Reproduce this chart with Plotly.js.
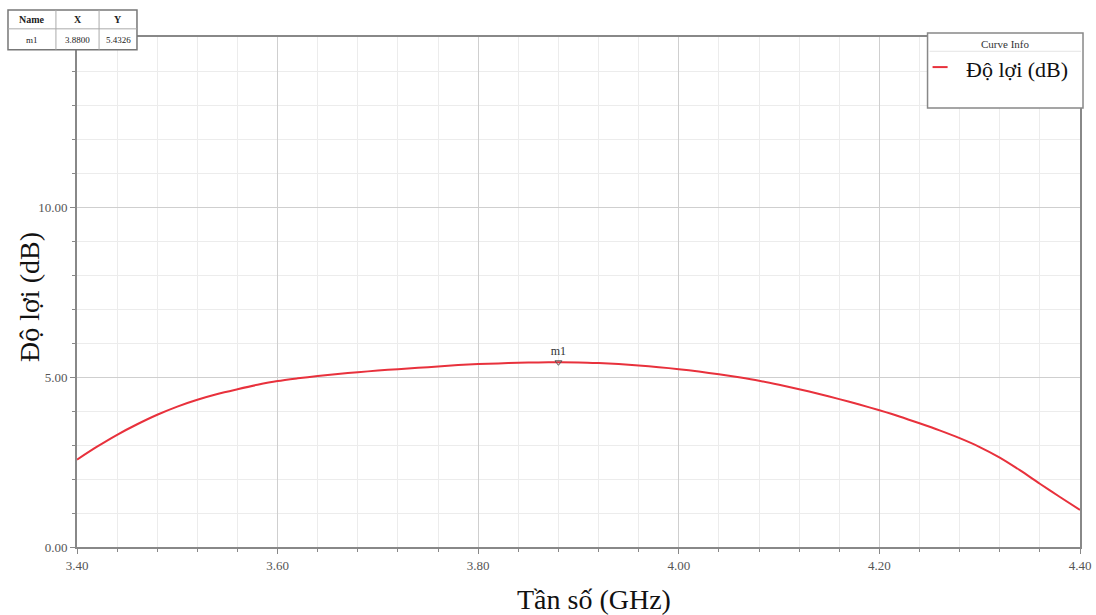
<!DOCTYPE html>
<html>
<head>
<meta charset="utf-8">
<script src="https://cdn.plot.ly/plotly-3.0.1.min.js"></script>
<style>html,body{margin:0;padding:0;background:#fff;}#chart{width:1096px;height:615px;}</style>
</head>
<body>
<div id="chart"></div>
<script>
const freqGHz = [3.40, 3.42, 3.44, 3.46, 3.48, 3.50, 3.52, 3.54, 3.56, 3.58, 3.60, 3.62, 3.64, 3.66, 3.68, 3.70, 3.72, 3.74, 3.76, 3.78, 3.80, 3.82, 3.84, 3.86, 3.88, 3.90, 3.92, 3.94, 3.96, 3.98, 4.00, 4.02, 4.04, 4.06, 4.08, 4.10, 4.12, 4.14, 4.16, 4.18, 4.20, 4.22, 4.24, 4.26, 4.28, 4.30, 4.32, 4.34, 4.36, 4.38, 4.40];
const gainDB  = [2.57, 2.95, 3.30, 3.61, 3.89, 4.13, 4.33, 4.50, 4.64, 4.77, 4.88, 4.96, 5.03, 5.09, 5.14, 5.19, 5.23, 5.27, 5.31, 5.35, 5.38, 5.40, 5.42, 5.43, 5.4326, 5.43, 5.41, 5.38, 5.34, 5.29, 5.23, 5.16, 5.08, 4.99, 4.89, 4.77, 4.64, 4.50, 4.35, 4.19, 4.02, 3.84, 3.64, 3.43, 3.20, 2.94, 2.63, 2.26, 1.86, 1.47, 1.09];
const markerName = ['m1'];
const markerX = [3.88];
const markerY = [5.4326];
const xTickVals = [3.40, 3.60, 3.80, 4.00, 4.20, 4.40];
const xTickText = ['3.40', '3.60', '3.80', '4.00', '4.20', '4.40'];
const yTickVals = [0, 5, 10];
const yTickText = ['0.00', '5.00', '10.00'];
const seriesName = 'Độ lợi (dB)';
const xTitle = 'Tần số (GHz)';
const yTitle = 'Độ lợi (dB)';

const serif = 'Liberation Serif, Times New Roman, serif';

const traces = [
  {
    x: freqGHz, y: gainDB, type: 'scatter', mode: 'lines',
    line: {color: '#e8313c', width: 2, shape: 'spline', smoothing: 0.8},
    name: seriesName, showlegend: false
  },
  {
    x: markerX, y: markerY, type: 'scatter', mode: 'markers+text',
    marker: {symbol: 'triangle-down-open', size: 6, color: '#555', line: {width: 1, color: '#555'}},
    text: markerName, textposition: 'top center',
    textfont: {family: serif, size: 12, color: '#333'},
    showlegend: false
  }
];

const layout = {
  width: 1096, height: 615,
  margin: {l: 77, r: 16, t: 37, b: 68},
  paper_bgcolor: '#fff', plot_bgcolor: '#fff',
  showlegend: false,
  xaxis: {
    range: [3.40, 4.40],
    tickvals: xTickVals, ticktext: xTickText,
    tickfont: {family: serif, size: 13, color: '#555'},
    showgrid: true, gridcolor: '#cfcfcf', gridwidth: 1,
    minor: {dtick: 0.04, showgrid: true, gridcolor: '#ececec', ticks: 'outside', ticklen: 3, tickcolor: '#888'},
    ticks: 'outside', ticklen: 5, tickcolor: '#888',
    showline: true, linecolor: '#888', linewidth: 2, mirror: true,
    zeroline: false
  },
  yaxis: {
    range: [0, 15],
    tickvals: yTickVals, ticktext: yTickText,
    tickfont: {family: serif, size: 13, color: '#555'},
    showgrid: true, gridcolor: '#cfcfcf', gridwidth: 1,
    minor: {dtick: 1, showgrid: true, gridcolor: '#ececec', ticks: 'outside', ticklen: 3, tickcolor: '#888'},
    ticks: 'outside', ticklen: 5, tickcolor: '#888',
    showline: true, linecolor: '#888', linewidth: 2, mirror: true,
    zeroline: false
  },
  shapes: [
    // marker table (top-left)
    {type: 'rect', xref: 'paper', yref: 'paper', x0: -0.0688, x1: 0.0598, y0: 0.975, y1: 1.053, fillcolor: '#ffffff', line: {color: '#777', width: 1.5}},
    {type: 'line', xref: 'paper', yref: 'paper', x0: -0.0688, x1: 0.0598, y0: 1.016, y1: 1.016, line: {color: '#aaa', width: 1}},
    {type: 'line', xref: 'paper', yref: 'paper', x0: -0.021, x1: -0.021, y0: 0.975, y1: 1.053, line: {color: '#aaa', width: 1}},
    {type: 'line', xref: 'paper', yref: 'paper', x0: 0.022, x1: 0.022, y0: 0.975, y1: 1.053, line: {color: '#aaa', width: 1}},
    // curve info box (top-right)
    {type: 'rect', xref: 'paper', yref: 'paper', x0: 0.848, x1: 1.003, y0: 0.861, y1: 1.008, fillcolor: '#ffffff', line: {color: '#888', width: 1.5}},
    {type: 'line', xref: 'paper', yref: 'paper', x0: 0.85, x1: 1.001, y0: 0.972, y1: 0.972, line: {color: '#e4e4e4', width: 1}},
    {type: 'line', xref: 'paper', yref: 'paper', x0: 0.853, x1: 0.868, y0: 0.941, y1: 0.941, line: {color: '#e8313c', width: 2}}
  ],
  annotations: [
    {xref: 'paper', yref: 'paper', x: -0.045, y: 1.035, xanchor: 'center', yanchor: 'middle', text: '<b>Name</b>', showarrow: false, font: {family: serif, size: 10, color: '#222'}},
    {xref: 'paper', yref: 'paper', x: 0.0005, y: 1.035, xanchor: 'center', yanchor: 'middle', text: '<b>X</b>', showarrow: false, font: {family: serif, size: 10, color: '#222'}},
    {xref: 'paper', yref: 'paper', x: 0.041, y: 1.035, xanchor: 'center', yanchor: 'middle', text: '<b>Y</b>', showarrow: false, font: {family: serif, size: 10, color: '#222'}},
    {xref: 'paper', yref: 'paper', x: -0.045, y: 0.994, xanchor: 'center', yanchor: 'middle', text: markerName[0], showarrow: false, font: {family: serif, size: 9, color: '#222'}},
    {xref: 'paper', yref: 'paper', x: 0.0005, y: 0.994, xanchor: 'center', yanchor: 'middle', text: markerX[0].toFixed(4), showarrow: false, font: {family: serif, size: 9, color: '#222'}},
    {xref: 'paper', yref: 'paper', x: 0.041, y: 0.994, xanchor: 'center', yanchor: 'middle', text: markerY[0].toFixed(4), showarrow: false, font: {family: serif, size: 9, color: '#222'}},
    {xref: 'paper', yref: 'paper', x: 0.925, y: 0.986, xanchor: 'center', yanchor: 'middle', text: 'Curve Info', showarrow: false, font: {family: serif, size: 11, color: '#333'}},
    {xref: 'paper', yref: 'paper', x: 0.937, y: 0.937, xanchor: 'center', yanchor: 'middle', text: seriesName, showarrow: false, font: {family: serif, size: 22, color: '#111'}},
    {xref: 'paper', yref: 'paper', x: 0.515, y: -0.102, xanchor: 'center', yanchor: 'middle', text: xTitle, showarrow: false, font: {family: serif, size: 28, color: '#111'}},
    {xref: 'paper', yref: 'paper', x: -0.048, y: 0.49, xanchor: 'center', yanchor: 'middle', textangle: -90, text: yTitle, showarrow: false, font: {family: serif, size: 28, color: '#111'}}
  ]
};

Plotly.newPlot('chart', traces, layout, {displayModeBar: false, staticPlot: true});
</script>
</body>
</html>
